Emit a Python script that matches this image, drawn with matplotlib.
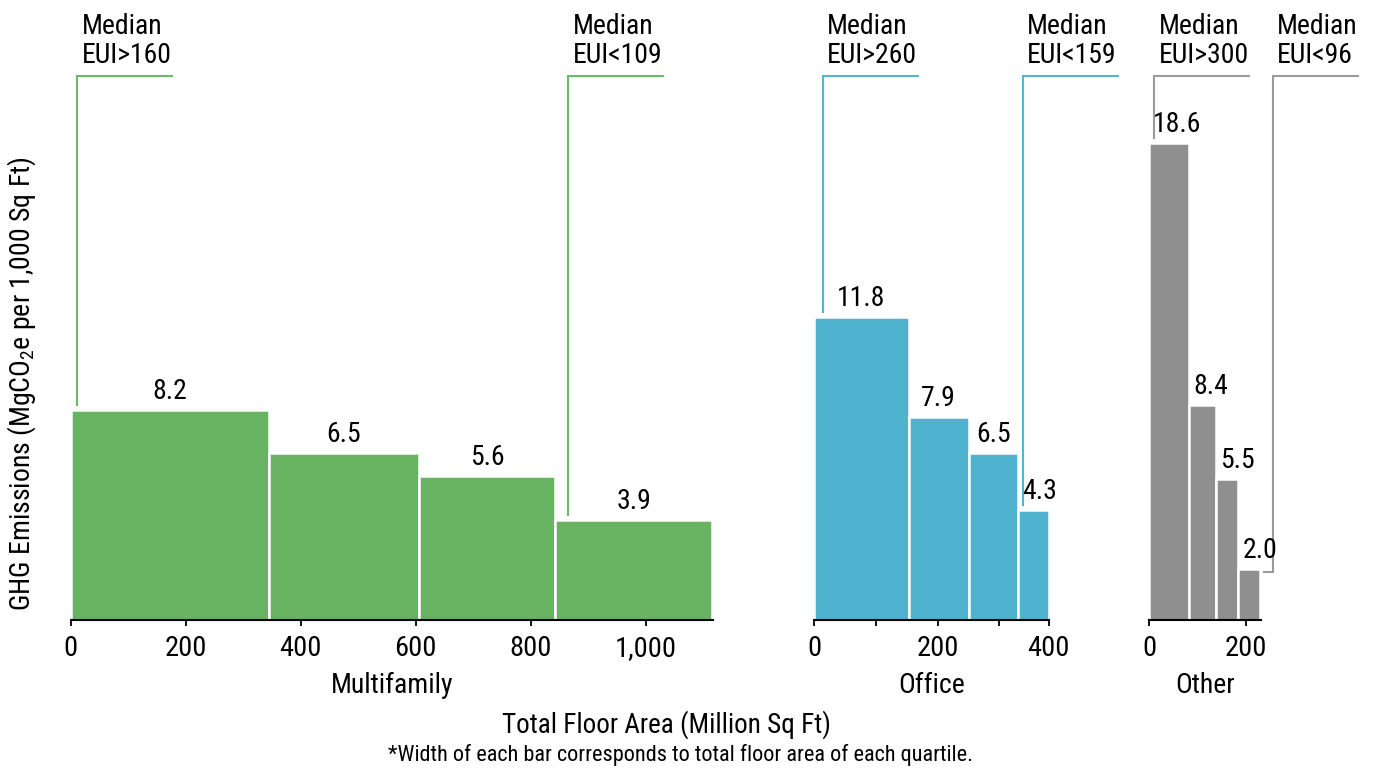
import matplotlib
matplotlib.use('Agg')
import matplotlib.pyplot as plt
from matplotlib import font_manager

# pick a narrow font if one is there
names = {f.name for f in font_manager.fontManager.ttflist}
font = 'DejaVu Sans'
for cand in ['Liberation Sans Narrow', 'Roboto Condensed', 'Open Sans Condensed', 'Roboto']:
    if cand in names:
        font = cand
        break
plt.rcParams['font.family'] = [font, 'DejaVu Sans']
plt.rcParams['mathtext.fontset'] = 'custom'
plt.rcParams['mathtext.rm'] = font

# data: width = total floor area of quartile (million sq ft), height = GHG intensity
panels = ['Multifamily', 'Office', 'Other']
mf_area = [344, 261, 238, 273]
mf_ghg = [8.2, 6.5, 5.6, 3.9]
off_area = [153, 97, 80, 50]
off_ghg = [11.8, 7.9, 6.5, 4.3]
oth_area = [83, 55, 46, 45]
oth_ghg = [18.6, 8.4, 5.5, 2.0]

mf_ticks = [0, 200, 400, 600, 800, 1000]
mf_ticklabels = ['0', '200', '400', '600', '800', '1,000']
off_ticks = [0, 100, 200, 300, 380]
off_ticklabels = ['0', '', '200', '', '400']
oth_ticks = [0, 200]
oth_ticklabels = ['0', '200']

x_domain = [1117, 380, 231]

# median EUI call-outs: (x anchor, start value, text)
mf_notes = [(11.5, 8.2, 'Median\nEUI>160'), (865, 3.9, 'Median\nEUI<109')]
off_notes = [(13.6, 11.8, 'Median\nEUI>260'), (338, 4.3, 'Median\nEUI<159')]
oth_notes = [(9.7, 18.6, 'Median\nEUI>300')]
oth_low_note = (2.0, 255, 'Median\nEUI<96')

colors = ['#67b362', '#4fb2cf', '#8f8f8f']
line_colors = ['#6cba68', '#52b5d3', '#9b9b9b']

W, H = 1375, 768
fig = plt.figure(figsize=(W / 100, H / 100), dpi=100)

px_boxes = [(70.7, 713.0), (814.3, 1048.7), (1149.3, 1261.0)]
base_px, top_px = 620, 76
px_per_unit_y = 25.65
ytop = (base_px - top_px) / px_per_unit_y

areas = [mf_area, off_area, oth_area]
ghgs = [mf_ghg, off_ghg, oth_ghg]
ticks = [mf_ticks, off_ticks, oth_ticks]
ticklabels = [mf_ticklabels, off_ticklabels, oth_ticklabels]
notes = [mf_notes, off_notes, oth_notes]

fs = 20
axes = []
for i in range(3):
    x0, x1 = px_boxes[i]
    ax = fig.add_axes([x0 / W, 1 - base_px / H, (x1 - x0) / W, (base_px - top_px) / H])
    axes.append(ax)
    ax.set_xlim(0, x_domain[i])
    ax.set_ylim(0, ytop)
    upp = x_domain[i] / (x1 - x0)  # data units per pixel
    lefts = [sum(areas[i][:k]) for k in range(len(areas[i]))]
    ax.bar(lefts, ghgs[i], width=areas[i], align='edge', color=colors[i],
           edgecolor='white', linewidth=1.8, zorder=2)
    for l, w, v in zip(lefts, areas[i], ghgs[i]):
        if w / upp < 42:
            ax.annotate(f'{v:.1f}', (l, v), xytext=(4, 11), textcoords='offset pixels',
                        ha='left', va='baseline', fontsize=fs)
        else:
            ax.annotate(f'{v:.1f}', (l + w / 2, v), xytext=(0, 11), textcoords='offset pixels',
                        ha='center', va='baseline', fontsize=fs)
    for xa, v, txt in notes[i]:
        ax.plot([xa, xa, xa + 95 * upp], [v + 5 / px_per_unit_y, ytop, ytop],
                color=line_colors[i], lw=1.5, clip_on=False, solid_joinstyle='miter')
        ax.annotate(txt, (xa, ytop), xytext=(4.5, 13), textcoords='offset pixels',
                    ha='left', va='baseline', fontsize=fs, linespacing=1.1,
                    annotation_clip=False)
    ax.spines[['left', 'right', 'top']].set_visible(False)
    ax.spines['bottom'].set_linewidth(1.5)
    ax.set_yticks([])
    ax.set_xticks(ticks[i])
    ax.set_xticklabels(ticklabels[i], fontsize=20.5)
    ax.tick_params(axis='x', length=4, width=1.3, pad=7)
    ax.set_xlabel(panels[i], fontsize=fs, labelpad=7)

# the low 'Other' call-out bends round the last bar
ax = axes[2]
upp = x_domain[2] / (px_boxes[2][1] - px_boxes[2][0])
v, xa, txt = oth_low_note
yl = v - 3 / px_per_unit_y
ax.plot([sum(oth_area) + 4 * upp, xa, xa, xa + 85 * upp], [yl, yl, ytop, ytop],
        color=line_colors[2], lw=1.5, clip_on=False, solid_joinstyle='miter')
ax.annotate(txt, (xa, ytop), xytext=(4.5, 13), textcoords='offset pixels',
            ha='left', va='baseline', fontsize=fs, linespacing=1.1, annotation_clip=False)

fig.text(22 / W, 1 - 384 / H, 'GHG Emissions (MgCO$_\\mathregular{2}$e per 1,000 Sq Ft)',
         rotation=90, ha='center', va='center', fontsize=fs)
fig.text(667 / W, 1 - 725 / H, 'Total Floor Area (Million Sq Ft)',
         ha='center', va='center', fontsize=19.5)
fig.text(680 / W, 1 - 755 / H, '*Width of each bar corresponds to total floor area of each quartile.',
         ha='center', va='center', fontsize=16)

fig.savefig('out.png', dpi=100)
